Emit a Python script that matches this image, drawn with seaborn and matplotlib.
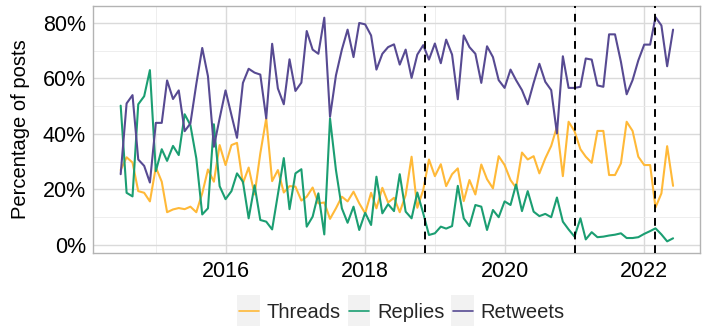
import numpy as np
import pandas as pd
import seaborn as sns
import matplotlib.pyplot as plt
import matplotlib.dates as mdates
from matplotlib.patches import Rectangle
from matplotlib.legend_handler import HandlerLine2D

# monthly shares of posts, Jul 2014 - Jun 2022
threads = [27, 31.6, 29.7, 19.4, 18.8, 15.7, 28, 22.8, 11.8, 12.8, 13.3, 12.9,
           13.8, 11.8, 18.6, 27.2, 22.8, 36, 28.8, 36, 36.8, 22.2, 27.9, 18.2,
           33, 45.6, 23, 27, 18.9, 21.2, 21, 16, 17.4, 20.7, 15, 15.3,
           9.4, 13.2, 17.4, 15.7, 19.2, 15, 11.4, 18.8, 13.2, 20.6, 15.3, 17,
           11.8, 18, 31.8, 13.4, 19.8, 30.8, 24.8, 29.1, 21.2, 25.5, 27.6, 15.8,
           23.4, 18.2, 29, 23.7, 20.4, 32, 28.8, 23.4, 20.6, 33.3, 30.8, 32,
           25.8, 31.2, 35.7, 42.6, 24.8, 44.4, 41, 34.5, 31.8, 29.6, 41.1, 41.1,
           25.2, 25.2, 29.4, 44.4, 41.1, 31.8, 28.8, 28.8, 13.5, 18.6, 35.6, 21.3]
replies = [50.2, 18.8, 17.5, 50.7, 53.6, 63, 26.6, 34.5, 30.3, 35.7, 32.4, 47.1,
           43.2, 31.2, 11, 13.2, 43.5, 21.2, 16.5, 19.4, 25.8, 22.8, 9.6, 21.5,
           9, 8.4, 5.6, 18.2, 31.3, 12.9, 25.8, 27.3, 6.6, 10.2, 18.6, 3.8,
           45.6, 27, 13.2, 8, 13.8, 5.4, 11.6, 7.2, 24.6, 11.4, 14.7, 12.2,
           25.5, 12, 9.6, 18.9, 11.4, 3.6, 4.2, 6.6, 5.9, 6.8, 21.3, 9.6,
           6.8, 14.4, 13.8, 5.4, 12.6, 10, 15.7, 14.4, 21.8, 12.2, 19.4, 12,
           10.4, 11.2, 10, 17.1, 8.4, 5.6, 3, 9.6, 2, 4.6, 2.8, 3,
           3.4, 3.7, 4.2, 2.5, 2.5, 2.8, 4, 5, 6, 3.8, 1.3, 2.4]
retweets = [25.5, 51, 54, 30.8, 28.5, 22.5, 44, 44, 59.3, 52.6, 55.7, 41,
            43.8, 58, 71, 60.8, 35.4, 45.6, 55.7, 46.8, 38.6, 58.4, 63.5, 62.1,
            61.4, 45.6, 72.5, 56.4, 50.7, 66.9, 55.5, 58.5, 77.1, 70.4, 68.9, 81.9,
            46.2, 61.1, 70.4, 77.6, 67.7, 80, 79.5, 75.5, 63.2, 68.9, 71.3, 72.3,
            65, 70.4, 60.2, 68.6, 72, 66.8, 72.6, 65.5, 74, 68.6, 52.5, 75.5,
            71.3, 68.9, 58.4, 71.6, 67.7, 59.4, 56.6, 63.2, 59.4, 55.8, 50.7, 58.4,
            65.3, 58.8, 55.8, 40.2, 68, 56.6, 56.6, 57, 67.2, 66.8, 57.5, 57,
            75.9, 75.9, 66, 54.3, 59.4, 66.5, 72.2, 72.2, 82.1, 79.1, 64.4, 77.6]
months = pd.date_range("2014-07-01", periods=len(threads), freq="MS")
events = pd.to_datetime(["2018-11-10", "2021-01-06", "2022-02-24"])

df = pd.DataFrame({"month": months, "Threads": threads,
                   "Replies": replies, "Retweets": retweets})
df = df.melt(id_vars="month", var_name="type", value_name="pct")

palette = {"Threads": "#FFB938", "Replies": "#1B9E72", "Retweets": "#574A92"}

sns.set_theme(style="white")
plt.rcParams["font.family"] = ["Liberation Sans", "DejaVu Sans"]

fig = plt.figure(figsize=(7.06, 3.36), dpi=100)
ax = fig.add_axes([0.1317, 0.247, 0.8598, 0.735])

sns.lineplot(data=df, x="month", y="pct", hue="type", palette=palette,
             linewidth=1.5, ax=ax)
for d in events:
    ax.axvline(d, color="black", linestyle=(0, (4, 3)), linewidth=1.4, zorder=5)

ax.set_xlim(pd.Timestamp("2014-02-06"), pd.Timestamp("2022-10-20"))
ax.set_ylim(-2.9, 86.1)
ax.set_yticks([0, 20, 40, 60, 80])
ax.set_yticks([10, 30, 50, 70], minor=True)
ax.set_yticklabels(["0%", "20%", "40%", "60%", "80%"])
ax.xaxis.set_major_locator(mdates.YearLocator(2))
ax.set_xticks(pd.to_datetime([f"{y}-01-01" for y in range(2015, 2023, 2)]), minor=True)
ax.xaxis.set_major_formatter(mdates.DateFormatter("%Y"))

ax.grid(which="major", color="#dadada", linewidth=1.0)
ax.grid(which="minor", color="#ebebeb", linewidth=0.6)
ax.set_axisbelow(True)
for s in ax.spines.values():
    s.set_color("#b3b3b3")
    s.set_linewidth(1.0)
ax.tick_params(which="major", length=3, color="#b3b3b3", width=1,
               labelsize=15.5, labelcolor="black", pad=2)
ax.tick_params(which="minor", length=0)
ax.tick_params(axis="x", pad=3)
ax.set_xlabel("")
ax.set_ylabel("Percentage of posts", fontsize=14.5, color="black", labelpad=9)


class KeyHandler(HandlerLine2D):
    def create_artists(self, legend, orig_handle, xdescent, ydescent,
                       width, height, fontsize, trans):
        bg = Rectangle((-xdescent - 1, -ydescent - 6), width + 2, height + 12,
                       facecolor="#f2f2f2", edgecolor="none", transform=trans)
        arts = super().create_artists(legend, orig_handle, xdescent, ydescent,
                                      width, height, fontsize, trans)
        return [bg] + arts


handles, labels = ax.get_legend_handles_labels()
for h in handles:
    h.set_linewidth(1.2)
ax.legend(handles, labels, loc="center", bbox_to_anchor=(0.569, 0.071),
          bbox_transform=fig.transFigure, ncol=3, frameon=False, fontsize=14.5,
          handlelength=1.0, handletextpad=0.4, columnspacing=0.4,
          handler_map={h: KeyHandler() for h in handles})

fig.savefig("out.png", dpi=100)
